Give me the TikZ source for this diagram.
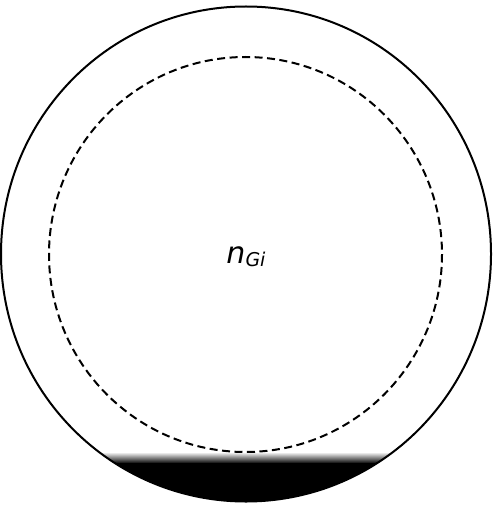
\documentclass[tikz,border=0pt]{standalone}
\usepackage{fontspec}
\newfontfamily\dvsans{DejaVu Sans}
\begin{document}
\begin{tikzpicture}[x=1pt,y=-1pt,
  outerring/.style={line width=2pt, draw=black},
  innerring/.style={line width=2pt, draw=black, dash pattern=on 8pt off 4.5pt}]
\useasboundingbox (0,0) rectangle (495,505);
\begin{scope}
  \clip (246,254) ellipse [x radius=245, y radius=247.5];
  \shade[top color=white, bottom color=black] (0,452) rectangle (495,463.5);
  \fill[black] (0,463) rectangle (495,505);
\end{scope}
\draw[outerring] (246,254) ellipse [x radius=245, y radius=247.5];
\draw[innerring] (245.5,254.5) ellipse [x radius=196.5, y radius=197.5];
\node[inner sep=0pt, anchor=base] (lbl) at (246,263)
  {\dvsans\itshape\fontsize{30}{30}\selectfont n\raisebox{-3pt}{\fontsize{19}{19}\selectfont Gi}};
\end{tikzpicture}
\end{document}
